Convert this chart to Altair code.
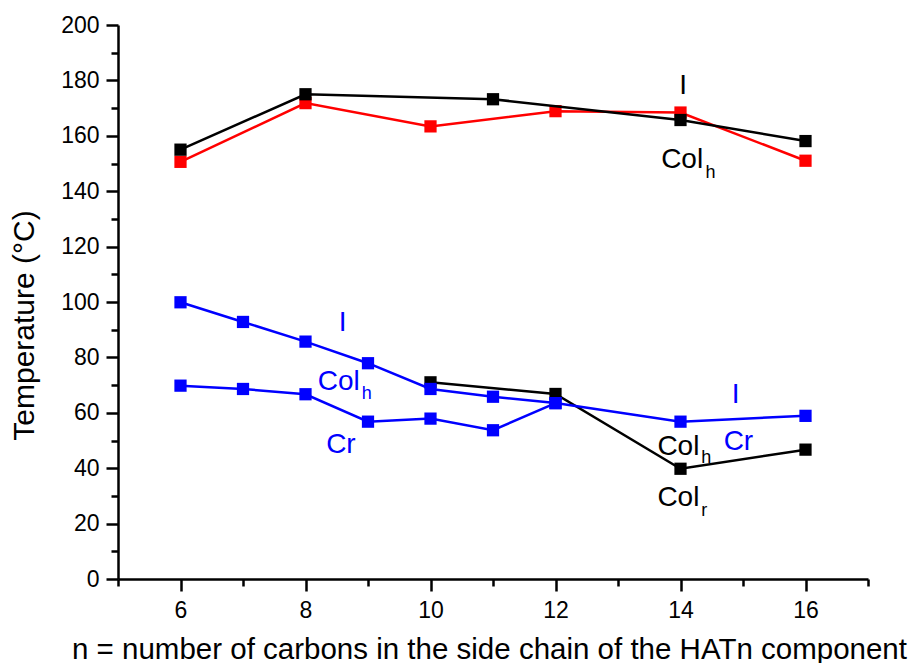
import altair as alt
import pandas as pd

# ---- data ----
s_black_top_n = [6, 8, 11, 14, 16]
s_black_top_T = [155.0, 175.0, 173.2, 165.7, 158.1]

s_red_n = [6, 8, 10, 12, 14, 16]
s_red_T = [150.6, 171.8, 163.4, 168.9, 168.4, 151.0]

s_blue_top_n = [6, 7, 8, 9, 10, 11, 12, 14, 16]
s_blue_top_T = [99.9, 92.8, 85.7, 77.9, 68.6, 65.8, 63.5, 56.8, 58.9]

s_blue_low_n = [6, 7, 8, 9, 10, 11, 12]
s_blue_low_T = [69.8, 68.6, 66.7, 56.8, 57.9, 53.7, 63.5]

s_black_low_n = [10, 12, 14, 16]
s_black_low_T = [71.0, 66.8, 39.8, 46.7]

# annotation labels (data coordinates, left/baseline anchored)
lab_text = ["I", "Col", "I", "Col", "Cr", "I", "Col", "Cr", "Col"]
lab_n = [13.98, 13.69, 8.53, 8.195, 8.33, 14.82, 13.63, 14.69, 13.63]
lab_T = [175.0, 148.5, 89.5, 68.4, 45.5, 63.6, 44.9, 46.7, 26.2]
lab_col = ["black", "black", "#0000FF", "#0000FF", "#0000FF", "#0000FF", "black", "#0000FF", "black"]

sub_text = ["h", "h", "h", "r"]
sub_n = [14.40, 8.90, 14.33, 14.33]
sub_T = [144.9, 65.0, 41.7, 22.9]
sub_col = ["black", "#0000FF", "black", "black"]

x_major = [6, 8, 10, 12, 14, 16]
x_minor = [5, 7, 9, 11, 13, 15, 17]
y_major = list(range(0, 201, 20))
y_minor = list(range(10, 200, 20))

FONT = "Liberation Sans"

xs = alt.Scale(domain=[5, 17], nice=False, zero=False)
ys = alt.Scale(domain=[0, 200], nice=False, zero=False)

all_df = pd.DataFrame({
    "n": s_black_top_n + s_red_n + s_blue_top_n + s_blue_low_n + s_black_low_n,
    "T": s_black_top_T + s_red_T + s_blue_top_T + s_blue_low_T + s_black_low_T,
})

major_x = alt.Axis(orient="bottom", values=x_major, tickSize=12, tickWidth=2.5,
                   domainWidth=2.5, domainColor="black", tickColor="black",
                   labelFontSize=23, labelFont=FONT, labelColor="black", labelPadding=8,
                   labelFlush=False, grid=False,
                   title="n = number of carbons in the side chain of the HATn component",
                   titleFont=FONT, titleFontSize=29.5, titleFontWeight="normal",
                   titleColor="black", titleX=371, titleAlign="center",
                   titleY=79, titleBaseline="alphabetic")
major_y = alt.Axis(orient="left", values=y_major, tickSize=12, tickWidth=2.5,
                   domainWidth=2.5, domainColor="black", tickColor="black",
                   labelFontSize=23, labelFont=FONT, labelColor="black", labelPadding=7,
                   labelFlush=False, grid=False,
                   title="Temperature (°C)", titleFont=FONT, titleFontSize=30,
                   titleFontWeight="normal", titleColor="black", titleAngle=270,
                   titleX=-94, titleY=300, titleAlign="center", titleBaseline="middle")
minor_x = alt.Axis(orient="bottom", values=x_minor, tickSize=7, tickWidth=2.5,
                   tickColor="black", domain=False, labels=False, grid=False, title=None)
minor_y = alt.Axis(orient="left", values=y_minor, tickSize=7, tickWidth=2.5,
                   tickColor="black", domain=False, labels=False, grid=False, title=None)

axis_layer = alt.Chart(all_df).mark_point(opacity=0).encode(
    x=alt.X("n:Q", scale=xs, axis=major_x),
    y=alt.Y("T:Q", scale=ys, axis=major_y),
)
minor_layer = alt.Chart(all_df).mark_point(opacity=0).encode(
    x=alt.X("n:Q", scale=xs, axis=minor_x),
    y=alt.Y("T:Q", scale=ys, axis=minor_y),
)


def series(ns, ts, color):
    df = pd.DataFrame({"n": ns, "T": ts})
    enc = dict(x=alt.X("n:Q", scale=xs, axis=None), y=alt.Y("T:Q", scale=ys, axis=None))
    line = alt.Chart(df).mark_line(color=color, strokeWidth=2.5).encode(**enc)
    pts = alt.Chart(df).mark_point(shape="square", filled=True, size=150, opacity=1,
                                   color=color).encode(**enc)
    return [line, pts]


layers = [axis_layer, minor_layer]
layers += series(s_red_n, s_red_T, "#FF0000")
layers += series(s_black_top_n, s_black_top_T, "black")
layers += series(s_black_low_n, s_black_low_T, "black")
layers += series(s_blue_low_n, s_blue_low_T, "#0000FF")
layers += series(s_blue_top_n, s_blue_top_T, "#0000FF")

lab_df = pd.DataFrame({"n": lab_n, "T": lab_T, "t": lab_text, "c": lab_col})
sub_df = pd.DataFrame({"n": sub_n, "T": sub_T, "t": sub_text, "c": sub_col})

labels = alt.Chart(lab_df).mark_text(align="left", baseline="alphabetic", font=FONT,
                                     fontSize=28).encode(
    x=alt.X("n:Q", scale=xs, axis=None), y=alt.Y("T:Q", scale=ys, axis=None),
    text="t:N", color=alt.Color("c:N", scale=None))
subs = alt.Chart(sub_df).mark_text(align="left", baseline="alphabetic", font=FONT,
                                   fontSize=18).encode(
    x=alt.X("n:Q", scale=xs, axis=None), y=alt.Y("T:Q", scale=ys, axis=None),
    text="t:N", color=alt.Color("c:N", scale=None))
layers += [labels, subs]

chart = alt.layer(*layers).resolve_axis(x="independent", y="independent").properties(
    width=750, height=554,
    autosize=alt.AutoSizeParams(type="none"),
    padding={"left": 110, "top": 17, "right": 42, "bottom": 84},
    background="white",
).configure_view(stroke=None)

chart.save("out.html", embed_options={"renderer": "svg", "actions": False})
